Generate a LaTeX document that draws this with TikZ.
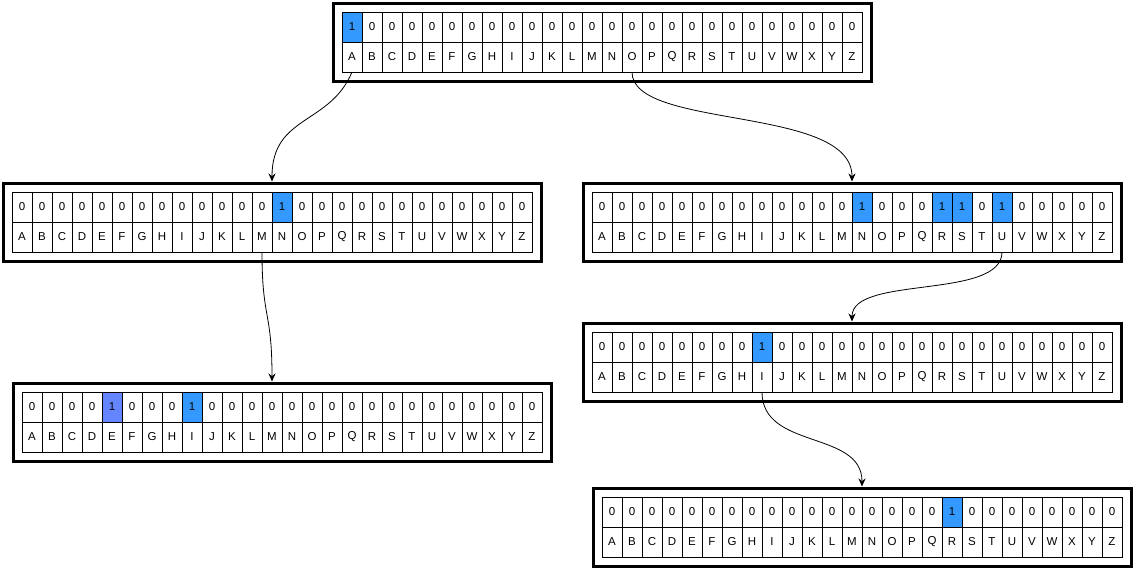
\documentclass[tikz,border=0pt]{standalone}
\usepackage{fontspec}
\setmainfont{Liberation Sans}
\usetikzlibrary{arrows.meta}
\definecolor{cellblue}{HTML}{3399FF}
\definecolor{cellpurple}{HTML}{6485FF}
\tikzset{
  cell/.style={draw=black, line width=0.8pt, minimum width=20pt, minimum height=30pt,
    inner sep=0pt, outer sep=0pt, anchor=north west, font=\fontsize{11.5}{13}\selectfont},
  outerbox/.style={draw=black, line width=3pt, minimum width=538pt, minimum height=78pt,
    inner sep=0pt, outer sep=0pt, anchor=north west},
  conn/.style={draw=black, line width=0.8pt, -{Stealth[length=8pt,width=7pt]}, shorten >=1.5pt}
}
\newcommand{\bitbox}[4]{%
  \node[outerbox] (#1) at (#2-9,#3-9) {};
  \foreach \b [count=\i from 0] in {#4} {
    \ifcase\b \def\fc{white}\or \def\fc{cellblue}\or \def\fc{cellpurple}\fi
    \node[cell, fill=\fc] (#1-v\i) at (#2+20*\i,#3) {\ifnum\b>0 1\else 0\fi};
    \node[cell] (#1-l\i) at (#2+20*\i,#3+30) {\char\numexpr65+\i\relax};
  }
}
\begin{document}
\begin{tikzpicture}[x=1pt,y=-1pt]
\useasboundingbox (0,0) rectangle (1136,573);
\bitbox{b1}{342}{12}{1,0,0,0,0,0,0,0,0,0,0,0,0,0,0,0,0,0,0,0,0,0,0,0,0,0}
\bitbox{b2}{12}{192}{0,0,0,0,0,0,0,0,0,0,0,0,0,1,0,0,0,0,0,0,0,0,0,0,0,0}
\bitbox{b3}{592}{192}{0,0,0,0,0,0,0,0,0,0,0,0,0,1,0,0,0,1,1,0,1,0,0,0,0,0}
\bitbox{b4}{592}{332}{0,0,0,0,0,0,0,0,1,0,0,0,0,0,0,0,0,0,0,0,0,0,0,0,0,0}
\bitbox{b5}{22}{392}{0,0,0,0,2,0,0,0,1,0,0,0,0,0,0,0,0,0,0,0,0,0,0,0,0,0}
\bitbox{b6}{602}{497}{0,0,0,0,0,0,0,0,0,0,0,0,0,0,0,0,0,1,0,0,0,0,0,0,0,0}
\draw[conn] (b1-l0.south) .. controls (330,125) and (272,115) .. (b2.north);
\draw[conn] (b1-l14.south) .. controls (632,130) and (852,105) .. (b3.north);
\draw[conn] (b2-l12.south) .. controls (262,320) and (272,310) .. (b2.north |- b5.north);
\draw[conn] (b3-l20.south) .. controls (1002,300) and (852,275) .. (b4.north);
\draw[conn] (b4-l8.south) .. controls (762,450) and (862,430) .. (b6.north);
\end{tikzpicture}
\end{document}
